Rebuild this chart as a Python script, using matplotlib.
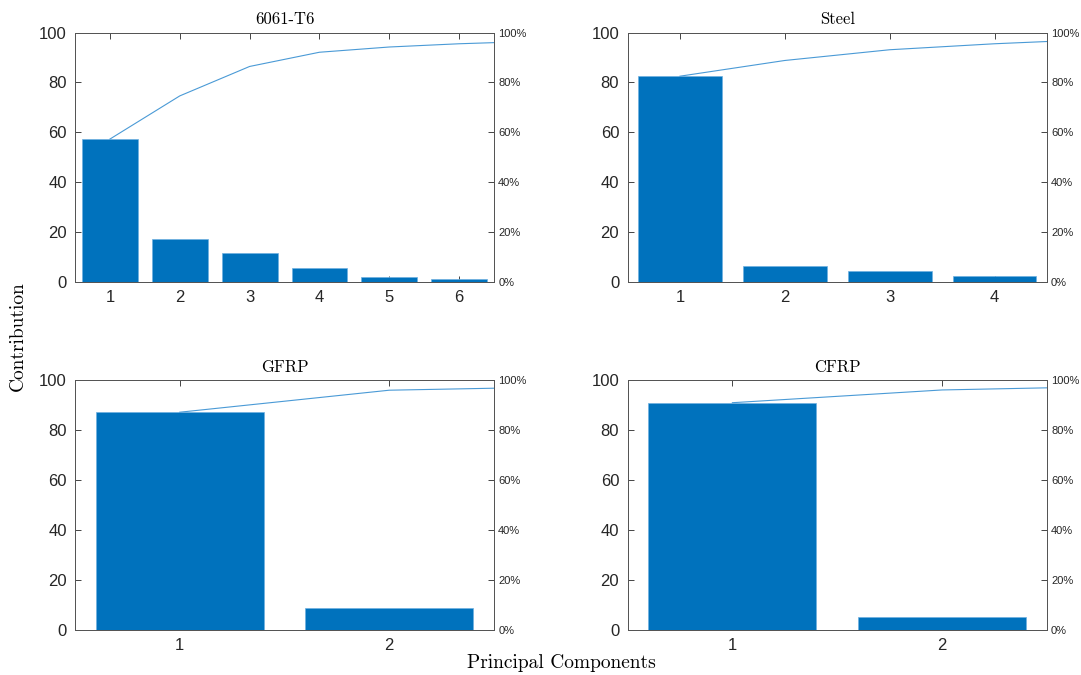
import numpy as np
import matplotlib
matplotlib.use('Agg')
import matplotlib.pyplot as plt

# explained variance (%) per principal component; last value is the next (hidden) component
materials = ['6061-T6', 'Steel', 'GFRP', 'CFRP']
al_explained = [57.3, 17.3, 11.8, 5.7, 2.1, 1.3, 0.9]
steel_explained = [82.5, 6.3, 4.3, 2.4, 1.8]
gfrp_explained = [87.1, 8.8, 1.6]
cfrp_explained = [90.9, 5.1, 1.7]
n_shown = [6, 4, 2, 2]
pct_ticks = [0, 20, 40, 60, 80, 100]
pct_labels = ['0%', '20%', '40%', '60%', '80%', '100%']

bar_color = '#0072BD'
line_color = '#4a9ad6'
axis_color = '#555555'

plt.rcParams['font.family'] = ['Liberation Sans', 'DejaVu Sans']

fig = plt.figure(figsize=(10.81, 6.75), dpi=100)

positions = [
    [0.0694, 0.5822, 0.3876, 0.3696],
    [0.5805, 0.5822, 0.3880, 0.3696],
    [0.0694, 0.0667, 0.3876, 0.3704],
    [0.5805, 0.0667, 0.3880, 0.3704],
]
all_data = [al_explained, steel_explained, gfrp_explained, cfrp_explained]

for name, data, n, pos in zip(materials, all_data, n_shown, positions):
    ax = fig.add_axes(pos)
    x = np.arange(1, len(data) + 1)
    ax.bar(x[:n], data[:n], width=0.8, color=bar_color, edgecolor='#6fb0e0', linewidth=0.5, zorder=2)
    ax.plot(x, np.cumsum(data), color=line_color, linewidth=0.8, zorder=3)
    ax.set_xlim(0.5, n + 0.5)
    ax.set_ylim(0, 100)
    ax.set_xticks(x[:n])
    ax.set_yticks([0, 20, 40, 60, 80, 100])
    ax.tick_params(direction='in', length=4, width=0.6, colors='#262626', labelsize=12,
                   top=True, right=False, pad=6)
    for s in ax.spines.values():
        s.set_color(axis_color)
        s.set_linewidth(0.7)
    ax.set_title(name, family='cmr10', fontsize=12, pad=6)

    ax2 = ax.twinx()
    ax2.set_ylim(0, 100)
    ax2.set_yticks(pct_ticks)
    ax2.set_yticklabels(pct_labels)
    ax2.tick_params(direction='in', length=4, width=0.6, colors='#262626', labelsize=8, pad=3)
    for s in ax2.spines.values():
        s.set_color(axis_color)
        s.set_linewidth(0.7)

fig.text(0.017, 0.502, 'Contribution', family='cmr10', fontsize=14, rotation=90,
         ha='center', va='center')
fig.text(0.519, 0.018, 'Principal Components', family='cmr10', fontsize=14,
         ha='center', va='center')

plt.savefig('out.png', dpi=100)
